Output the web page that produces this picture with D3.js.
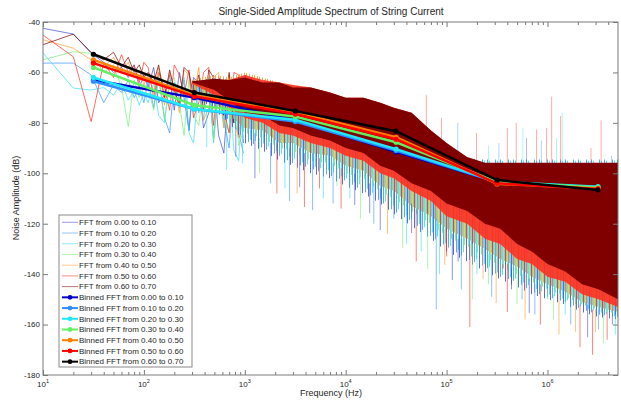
<!DOCTYPE html>
<html>
<head>
<meta charset="utf-8">
<script src="https://cdnjs.cloudflare.com/ajax/libs/d3/7.8.5/d3.min.js"></script>
<style>
body { margin: 0; background: #fff; }
text { font-family: "Liberation Sans", Arial, sans-serif; fill: #262626; }
</style>
</head>
<body>
<script>
// ---- data ----
var seriesNames = ["0.00 to 0.10", "0.10 to 0.20", "0.20 to 0.30", "0.30 to 0.40",
                   "0.40 to 0.50", "0.50 to 0.60", "0.60 to 0.70"];
var fftColors = ["#3f4fd0", "#3c96ff", "#35e0f0", "#78ee78", "#ff9a30", "#ff3020", "#800000"];
var binColors = ["#0000c8", "#2f8fff", "#20e8f8", "#60f060", "#ff8000", "#ff0000", "#000000"];

// low frequency part, single lines still visible (Hz, dB)
var lowFreq = [10, 20, 30, 40, 50, 60, 70, 80, 90, 100,
               110, 125, 140, 160, 180, 200, 225, 250, 280, 310,
               350, 390, 440, 490, 550, 620, 700, 780, 870, 970];
var low0 = [-42.5, -44.8, -52.4, -56, -60, -58, -62, -57, -66, -61,
            -66, -58, -72, -69, -61, -75, -60, -70, -83, -62, -64, -82, -76, -61, -85, -92, -63, -80, -65, -88];
var low1 = [-56.3, -56.3, -61, -72, -65, -68, -63, -70, -66, -72,
            -63, -74, -62, -78, -84, -64, -71, -63, -83, -65, -76, -70, -62, -86, -66, -79, -90, -64, -84, -92];
var low2 = [-52.3, -66.2, -67, -66, -69, -64, -71, -67, -73, -68,
            -72, -64, -77, -80, -63, -66, -74, -62, -84, -88, -65, -79, -63, -88, -66, -82, -64, -91, -95, -67];
var low3 = [-55, -51.8, -52.4, -60, -57, -66, -81.5, -63, -70, -66,
            -66, -75, -61, -79, -64, -62, -72, -85, -63, -77, -81, -65, -62, -87, -66, -78, -84, -64, -89, -83];
var low4 = [-47, -50.4, -55, -58, -54, -60, -56, -62, -59, -65,
            -61, -68, -58, -73, -60, -66, -76, -59, -61, -70, -58, -79, -74, -62, -60, -82, -61, -77, -86, -63];
var low5 = [-45.2, -53.8, -79.5, -56, -62, -53, -60, -57, -64, -56,
            -58, -70, -60, -66, -75, -57, -61, -69, -59, -78, -72, -60, -58, -81, -62, -75, -84, -60, -61, -79];
var low6 = [-49, -44.8, -52, -55, -52, -58, -54, -60, -57, -62,
            -60, -64, -57, -70, -59, -67, -73, -58, -60, -69, -61, -75, -59, -62, -71, -77, -60, -80, -62, -82];

// dense part: band between lower and upper edge of each trace
var envFreq = [300, 500, 700, 1000, 1500, 2200, 3000, 4500, 7000, 1e4,
               1.5e4, 2.2e4, 3e4, 4.5e4, 7e4, 1e5, 1.6e5, 2.4e5, 3.4e5, 5e5,
               7e5, 1e6, 1.5e6, 2.2e6, 3.2e6, 5e6];
var upper0 = [-64, -62, -63, -61, -63, -65, -65, -67, -69, -71, -71, -73, -75, -78, -85, -90, -95,
              -97, -97, -97, -97, -97, -97, -97, -97, -97];
var upper1 = [-65, -63, -64, -63, -65, -66, -67, -68, -70, -72, -73, -74, -76, -79, -86, -90, -94,
              -94.5, -94.5, -94.5, -94.5, -94.5, -94.5, -94.5, -94.5, -94.5];
var upper2 = [-66, -64, -65, -64, -66, -67, -68, -69, -70, -72, -73, -75, -77, -80, -87, -91, -94.5,
              -95, -95, -95, -95, -95, -95, -95, -95, -95];
var upper3 = [-65, -63, -64, -63, -65, -66, -67, -68, -70, -72, -72, -74, -76, -79, -86, -91, -96,
              -97, -97, -97, -97, -97, -97, -97, -97, -97];
var upper4 = [-63, -61, -62, -60, -62, -64, -65, -66, -68, -70, -70, -72, -74, -77, -84, -89, -95,
              -97, -97, -97, -97, -97, -97, -97, -97, -97];
var upper5 = [-64, -63, -63, -61, -63, -64, -65, -66, -68, -70, -70, -72, -74, -76, -83, -88, -94,
              -96.5, -96.5, -96.5, -96.5, -96.5, -96.5, -96.5, -96.5, -96.5];
var upper6 = [-63.5, -62.5, -63, -62, -64, -64, -66, -66, -68, -70, -70, -72, -74, -76, -83, -88, -93.5,
              -95.8, -95.8, -95.8, -95.8, -95.8, -95.8, -95.8, -95.8, -95.8];
var lower0 = [-68, -75, -80, -88, -91, -95, -97, -100, -102, -105, -108, -112, -116, -121, -126, -131, -135,
              -139, -142, -145, -148, -150, -152, -155, -157, -158];
var lower1 = [-67, -74, -79, -87, -90, -93, -96, -98, -101, -103, -107, -111, -115, -119, -125, -129, -134,
              -137, -141, -143, -147, -149, -151, -154, -156, -157];
var lower2 = [-68, -76, -80, -86, -88, -92, -94, -97, -99, -102, -105, -110, -113, -118, -123, -128, -132,
              -136, -140, -142, -145, -148, -150, -153, -155, -157];
var lower3 = [-67, -73, -78, -84, -86, -90, -91, -95, -96, -100, -102, -107, -110, -115, -120, -125, -129,
              -133, -137, -140, -143, -146, -149, -152, -154, -156];
var lower4 = [-67, -72, -77, -82, -83, -88, -88, -92, -93, -97, -99, -105, -107, -113, -117, -122, -126,
              -130, -134, -137, -141, -144, -147, -151, -153, -155];
var lower5 = [-64.5, -69, -74, -78, -80, -84, -85, -88, -90, -93, -95, -100, -102, -107, -111, -117, -120,
              -126, -128, -134, -136, -141, -143, -148, -150, -153];
var lower6 = [-64, -67, -71, -76, -77, -81, -82, -85, -87, -90, -92, -97, -99, -104, -107, -112, -115,
              -120, -122, -128, -131, -136, -139, -144, -146, -150];

// deep downward spikes below the dense band
var spikeFreq   = [420, 661, 815, 950, 1260, 1400, 1800, 2080, 2500, 2780, 3300, 3500, 3900, 4700, 5500, 6000,
                   7500, 8200, 9000, 11000, 12300, 14000, 17300, 19000, 22000, 26000, 30000, 36700, 40000, 45000,
                   50000, 56000, 65000, 79000, 85000, 96000, 100000, 114000, 130000, 140000, 170000, 180000,
                   200000, 230000, 260000, 280000, 310000, 360000, 400000, 440000, 500000, 560000, 600000,
                   660000, 750000, 850000, 1000000, 1000000, 1150000, 1300000, 1500000, 1700000, 1900000,
                   2100000, 2400000, 2500000, 2800000, 3000000, 3200000, 3600000, 3900000, 4400000, 4700000];
var spikeBottom = [-89.6, -98.7, -93.5, -96, -102, -100, -104, -108, -106, -111, -108, -105.5, -113.4, -114.6, -106, -110,
                   -112, -105, -114, -110, -112.6, -118, -115.8, -120, -122.5, -124, -118, -129.6, -128, -123.7,
                   -135, -131, -138, -154, -140, -136.4, -133, -142.3, -135, -146, -161, -150,
                   -140, -142, -144, -149, -151.5, -138, -155, -146, -152, -150, -158,
                   -155.4, -156, -160, -150, -148, -158, -164, -156, -160, -163,
                   -169, -152, -165, -172, -163, -162, -167.3, -166, -160, -164];
var spikeTop    = [-75, -80, -82, -82, -84, -86, -88, -88, -90, -90, -90, -90, -92, -92, -94, -94,
                   -96, -96, -98, -100, -100, -102, -104, -104, -106, -108, -108, -110, -112, -112,
                   -114, -114, -116, -118, -120, -122, -122, -124, -126, -126, -128, -128,
                   -130, -130, -132, -132, -134, -136, -136, -138, -138, -140, -140,
                   -142, -144, -144, -146, -146, -148, -148, -150, -150, -150,
                   -152, -152, -152, -154, -154, -154, -155, -155, -156, -156];
var spikeSeries = [2, 2, 0, 2, 0, 3, 1, 5, 2, 1, 4, 0, 5, 1, 5, 2,
                   1, 3, 5, 2, 0, 3, 0, 1, 0, 4, 1, 3, 2, 0,
                   5, 2, 3, 1, 2, 4, 5, 0, 0, 1, 5, 3,
                   2, 4, 3, 1, 4, 5, 5, 0, 3, 1, 4,
                   0, 1, 5, 2, 4, 3, 4, 2, 1, 4,
                   5, 0, 0, 5, 4, 1, 3, 5, 0, 2];

// thin spikes sticking up out of the high frequency floor
var upFreq   = [63000, 89000, 129000, 198000, 260000, 330000, 400000, 490000, 570000, 620000,
                780000, 870000, 980000, 1100000, 1230000, 1350000, 1400000, 2700000, 3400000, 4300000];
var upTop    = [-69, -78, -80, -84, -89, -88, -82, -80, -82, -86,
                -82.6, -87, -82, -69.6, -86, -77.3, -76, -90, -79, -93];
var upSeries = [5, 5, 1, 5, 2, 1, 5, 5, 2, 0,
                5, 1, 5, 5, 2, 5, 2, 5, 5, 1];

// binned FFT, one point per half decade
var binFreq = [31.6, 316, 3162, 31623, 316228, 3162278];
var bin0 = [-63, -70, -79, -91.5, -103.5, -105.5];
var bin1 = [-63.5, -74.5, -79.5, -91, -103.5, -105.5];
var bin2 = [-62, -74.5, -78.8, -90.4, -103.3, -105.3];
var bin3 = [-58, -73, -77.5, -87.7, -103.5, -105.6];
var bin4 = [-55, -69, -75.8, -85.7, -104.2, -106];
var bin5 = [-56.3, -69.5, -76.5, -86.5, -104, -106.2];
var bin6 = [-52.8, -68, -75.3, -83.3, -102.7, -106.6];

var yTicks = [-180, -160, -140, -120, -100, -80, -60, -40];
var xTickExp = [1, 2, 3, 4, 5, 6];

var lows = [low0, low1, low2, low3, low4, low5, low6];
var uppers = [upper0, upper1, upper2, upper3, upper4, upper5, upper6];
var lowers = [lower0, lower1, lower2, lower3, lower4, lower5, lower6];
var bins = [bin0, bin1, bin2, bin3, bin4, bin5, bin6];

// 1. margin
var outWidth = 621, outHeight = 402;
var margin = {top: 22, right: 3, bottom: 27, left: 43},
    width = outWidth - margin.left - margin.right,
    height = outHeight - margin.top - margin.bottom;

// 2. scales
var xScale = d3.scaleLog().domain([10, 5e6]).range([0, width]);
var yScale = d3.scaleLinear().domain([-180, -40]).range([height, 0]);

var svg = d3.select("body").append("svg")
    .attr("width", outWidth)
    .attr("height", outHeight);

var g = svg.append("g")
    .attr("transform", "translate(" + margin.left + "," + margin.top + ")");

g.append("clipPath").attr("id", "plotclip")
  .append("rect").attr("width", width).attr("height", height);

// vertical hatch patterns so the overlapping noisy traces look streaky
var hatchCols = [[0, 7], [2, 10], [4, 12], [5, 9], [1, 3, 6, 8, 11]];
var defs = g.append("defs");
hatchCols.forEach(function(cols, i) {
  var p = defs.append("pattern")
      .attr("id", "hatch" + i)
      .attr("width", 13).attr("height", 4)
      .attr("patternUnits", "userSpaceOnUse");
  cols.forEach(function(c) {
    p.append("rect").attr("x", c).attr("width", 1).attr("height", 4)
      .attr("fill", fftColors[i]);
  });
});

var plot = g.append("g").attr("clip-path", "url(#plotclip)");

// 3. raw FFT traces
var area = d3.area()
    .x(function(d) { return xScale(d[0]); })
    .y0(function(d) { return yScale(d[1]); })
    .y1(function(d) { return yScale(d[2]); });
var line = d3.line()
    .x(function(d) { return xScale(d[0]); })
    .y(function(d) { return yScale(d[1]); });

// single lines at low frequency
for (var i = 0; i < 7; i++) {
  plot.append("path")
    .datum(d3.zip(lowFreq, lows[i]))
    .attr("d", line)
    .attr("fill", "none")
    .attr("stroke", fftColors[i])
    .attr("stroke-opacity", 0.7)
    .attr("stroke-width", 1);
}

// traces 0..4 as streaky bands
for (var i = 0; i < 5; i++) {
  plot.append("path")
    .datum(d3.zip(envFreq, lowers[i], uppers[i]))
    .attr("d", area)
    .attr("fill", "url(#hatch" + i + ")")
    .attr("fill-opacity", 0.85);
}

// spikes below
plot.selectAll(".spike")
    .data(d3.range(spikeFreq.length))
  .enter().append("line")
    .attr("class", "spike")
    .attr("x1", function(k) { return xScale(spikeFreq[k]); })
    .attr("x2", function(k) { return xScale(spikeFreq[k]); })
    .attr("y1", function(k) { return yScale(spikeTop[k]); })
    .attr("y2", function(k) { return yScale(spikeBottom[k]); })
    .attr("stroke", function(k) { return fftColors[spikeSeries[k]]; })
    .attr("stroke-opacity", 0.6)
    .attr("stroke-width", 1);

// spikes above the floor
plot.selectAll(".upspike")
    .data(d3.range(upFreq.length))
  .enter().append("line")
    .attr("class", "upspike")
    .attr("x1", function(k) { return xScale(upFreq[k]); })
    .attr("x2", function(k) { return xScale(upFreq[k]); })
    .attr("y1", yScale(-97))
    .attr("y2", function(k) { return yScale(upTop[k]); })
    .attr("stroke", function(k) { return fftColors[upSeries[k]]; })
    .attr("stroke-opacity", 0.4)
    .attr("stroke-width", 1);

// trace 5 (red) just under the dark red one
plot.append("path")
    .datum(d3.zip(envFreq, lower5, upper5))
    .attr("d", area)
    .attr("fill", fftColors[5])
    .attr("fill-opacity", 0.9);

// dark red trace last, it covers the rest
plot.append("path")
    .datum(d3.zip(envFreq, lower6, upper6))
    .attr("d", area)
    .attr("fill", fftColors[6]);

// 4. binned FFT lines
for (var i = 0; i < 7; i++) {
  var pts = d3.zip(binFreq, bins[i]);
  plot.append("path")
    .datum(pts)
    .attr("d", line)
    .attr("fill", "none")
    .attr("stroke", binColors[i])
    .attr("stroke-width", 2.5);
  plot.selectAll(".m" + i)
      .data(pts)
    .enter().append("circle")
      .attr("cx", function(d) { return xScale(d[0]); })
      .attr("cy", function(d) { return yScale(d[1]); })
      .attr("r", 2.6)
      .attr("fill", binColors[i]);
}

// 5. axes (MATLAB style, ticks inside, box)
var axisColor = "#7a7a7a";
var minorTicks = [];
xTickExp.concat([0]).forEach(function(e) {
  for (var m = 2; m <= 9; m++) {
    var v = m * Math.pow(10, e);
    if (v > 10 && v < 5e6) minorTicks.push(v);
  }
});
var majorTicks = xTickExp.map(function(e) { return Math.pow(10, e); });

function styleAxis(sel) {
  sel.select(".domain").remove();
  sel.selectAll(".tick line").attr("stroke", axisColor);
  sel.selectAll(".tick text").remove();
}

g.append("g").attr("transform", "translate(0," + height + ")")
  .call(d3.axisBottom(xScale).tickValues(majorTicks).tickSize(-5)).call(styleAxis);
g.append("g").attr("transform", "translate(0," + height + ")")
  .call(d3.axisBottom(xScale).tickValues(minorTicks).tickSize(-3)).call(styleAxis);
g.append("g")
  .call(d3.axisTop(xScale).tickValues(majorTicks).tickSize(-5)).call(styleAxis);
g.append("g")
  .call(d3.axisTop(xScale).tickValues(minorTicks).tickSize(-3)).call(styleAxis);
g.append("g")
  .call(d3.axisLeft(yScale).tickValues(yTicks).tickSize(-5)).call(styleAxis);
g.append("g").attr("transform", "translate(" + width + ",0)")
  .call(d3.axisRight(yScale).tickValues(yTicks).tickSize(-5)).call(styleAxis);

g.append("rect")
  .attr("width", width).attr("height", height)
  .attr("fill", "none").attr("stroke", axisColor).attr("stroke-width", 1);

// tick labels
g.selectAll(".ylab")
    .data(yTicks)
  .enter().append("text")
    .attr("class", "ylab")
    .attr("x", -3)
    .attr("y", function(d) { return yScale(d); })
    .attr("dy", ".35em")
    .style("text-anchor", "end")
    .style("font-size", "8px")
    .text(function(d) { return d; });

g.selectAll(".xlab")
    .data(xTickExp)
  .enter().append("text")
    .attr("class", "xlab")
    .attr("x", function(d) { return xScale(Math.pow(10, d)); })
    .attr("y", height + 12)
    .style("text-anchor", "middle")
    .style("font-size", "8px")
    .each(function(d) {
      var t = d3.select(this);
      t.append("tspan").text("10");
      t.append("tspan").attr("dy", -4).style("font-size", "5.5px").text(d);
    });

// titles
svg.append("text")
  .attr("x", 331).attr("y", 15)
  .style("text-anchor", "middle")
  .style("font-size", "10px")
  .text("Single-Sided Amplitude Spectrum of String Current");
svg.append("text")
  .attr("x", 331).attr("y", 396)
  .style("text-anchor", "middle")
  .style("font-size", "9px")
  .text("Frequency (Hz)");
svg.append("text")
  .attr("transform", "translate(19,198) rotate(-90)")
  .style("text-anchor", "middle")
  .style("font-size", "9px")
  .text("Noise Amplitude (dB)");

// 6. legend
var legendItems = [];
seriesNames.forEach(function(s, i) { legendItems.push({label: "FFT from " + s, color: fftColors[i], binned: false}); });
seriesNames.forEach(function(s, i) { legendItems.push({label: "Binned FFT from " + s, color: binColors[i], binned: true}); });

var legend = svg.append("g").attr("transform", "translate(59,215)");
legend.append("rect")
  .attr("width", 133).attr("height", 152)
  .attr("fill", "#fff").attr("stroke", "#8a8a8a").attr("stroke-width", 1);

var item = legend.selectAll(".legend")
    .data(legendItems)
  .enter().append("g")
    .attr("class", "legend")
    .attr("transform", function(d, i) { return "translate(0," + (7.3 + i * 10.72) + ")"; });

item.append("line")
  .attr("x1", 3).attr("x2", 19)
  .attr("stroke", function(d) { return d.color; })
  .attr("stroke-width", function(d) { return d.binned ? 2 : 1; })
  .attr("stroke-opacity", function(d) { return d.binned ? 1 : 0.55; });
item.filter(function(d) { return d.binned; })
  .append("circle")
  .attr("cx", 11).attr("r", 2.4)
  .attr("fill", function(d) { return d.color; });
item.append("text")
  .attr("x", 20)
  .attr("dy", ".35em")
  .style("font-size", "8px")
  .text(function(d) { return d.label; });
</script>
</body>
</html>
